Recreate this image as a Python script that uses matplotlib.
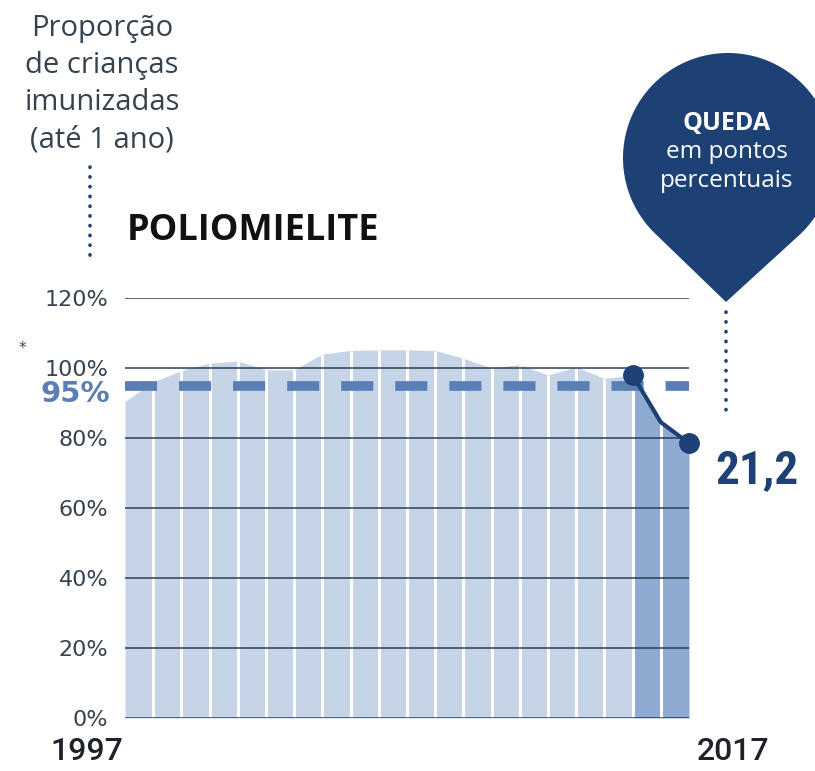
import numpy as np
import matplotlib.pyplot as plt
from matplotlib.patches import Polygon

# Cobertura vacinal - poliomielite (criancas ate 1 ano), Brasil
years = list(range(1997, 2018))
coverage = [90.5, 96.0, 99.3, 101.4, 102.0, 99.5, 99.5, 104.0, 105.0, 105.2, 105.2,
            105.0, 102.8, 100.0, 101.0, 98.0, 100.3, 97.0, 98.0, 84.5, 78.5]
target = 95
yticks = [0, 20, 40, 60, 80, 100, 120]
ytick_labels = ["0%", "20%", "40%", "60%", "80%", "100%", "120%"]
drop_label = "21,2"
start_fall = 2015

light = "#c6d4e7"
dark = "#8eaad0"
navy = "#1d4175"
grid_col = "#2c3d55"
dash_col = "#5a7fb6"
text_col = "#36424f"
narrow = ["Roboto Condensed", "Roboto", "DejaVu Sans"]

W, H = 815, 771
fig = plt.figure(figsize=(W / 100, H / 100), dpi=100)
ax = fig.add_axes([125 / W, 53 / H, 564 / W, 420 / H])

i0 = years.index(start_fall)
ax.fill_between(years[:i0 + 1], coverage[:i0 + 1], color=light, lw=0)
ax.fill_between(years[i0:], coverage[i0:], color=dark, lw=0)
ax.vlines(years[1:-1], 0, coverage[1:-1], colors="white", lw=2.2)

for t in yticks:
    ax.axhline(t, color=grid_col, lw=1.8 if t == 0 else 1.1, zorder=3)

# meta de 95%
ax.axhline(target, color=dash_col, lw=7, dashes=(3.3, 2.26), dash_capstyle="butt", zorder=4)

ax.plot(years[i0:], coverage[i0:], color=navy, lw=3, zorder=5, clip_on=False)
ax.plot([years[i0], years[-1]], [coverage[i0], coverage[-1]], "o", color=navy,
        ms=14, zorder=6, clip_on=False)

ax.set_xlim(years[0], years[-1])
ax.set_ylim(0, 120)
ax.set_yticks(yticks, ytick_labels)
ax.tick_params(axis="y", length=0, pad=12, labelsize=16, labelcolor=text_col)
ax.set_xticks([])
for s in ax.spines.values():
    s.set_visible(False)
ax.set_facecolor("none")

# overlay in pixel coordinates for annotations
ov = fig.add_axes([0, 0, 1, 1], zorder=10)
ov.set_xlim(0, W)
ov.set_ylim(H, 0)
ov.axis("off")
ov.patch.set_alpha(0)

ov.text(87, 760, str(years[0]), ha="center", va="baseline", fontsize=23,
        family=["Roboto", "DejaVu Sans"], weight="medium", color="#1e232a")
ov.text(733, 760, str(years[-1]), ha="center", va="baseline", fontsize=23,
        family=["Roboto", "DejaVu Sans"], weight="medium", color="#1e232a")

lines = ["Proporção", "de crianças", "imunizadas", "(até 1 ano)"]
for k, s in enumerate(lines):
    ov.text(102, 36 + k * 37, s, ha="center", va="baseline", fontsize=21,
            family="Open Sans", color=text_col)
ov.plot([90, 90], [167, 262], color=navy, lw=2.6, dashes=(0.1, 2.6),
        dash_capstyle="round")

ov.text(127, 240, "POLIOMIELITE", ha="left", va="baseline", fontsize=26,
        family="Open Sans", weight="bold", color="#111111")

ov.text(22, 349, "*", fontsize=11, color=text_col, ha="center", va="center")
ov.text(110, 394, "95%", ha="right", va="center", fontsize=21, weight="bold",
        color=dash_col)

# pin
C = np.array([728.0, 158.0])
r = 105.0
T = np.array([726.0, 302.0])
v = T - C
d = np.hypot(*v)
base = np.arctan2(v[1], v[0])
beta = np.arccos(r / d)
ang = np.linspace(base + beta, base - beta + 2 * np.pi, 200)
pts = np.column_stack([C[0] + r * np.cos(ang), C[1] + r * np.sin(ang)])
pts = np.vstack([pts, T])
ov.add_patch(Polygon(pts, closed=True, color=navy, lw=0))
ov.text(727, 123, "QUEDA", ha="center", va="center", fontsize=18, weight="bold",
        family="Open Sans", color="white")
ov.text(727, 152, "em pontos", ha="center", va="center", fontsize=17.5,
        family="Open Sans", color="white")
ov.text(727, 181, "percentuais", ha="center", va="center", fontsize=17.5,
        family="Open Sans", color="white")
ov.plot([726, 726], [312, 415], color=navy, lw=2.6, dashes=(0.1, 2.6),
        dash_capstyle="round")

ov.text(757, 470, drop_label, ha="center", va="center", fontsize=34, weight="bold",
        family=narrow, color=navy)

fig.savefig("out.png", dpi=100, facecolor="white")
